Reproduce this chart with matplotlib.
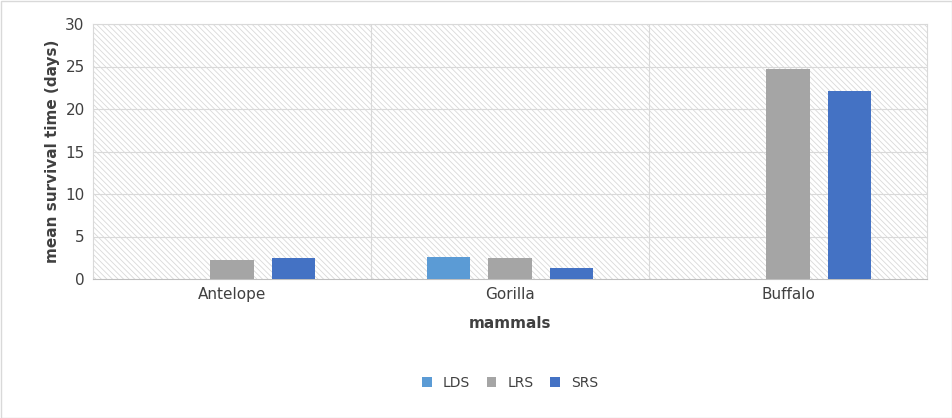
import matplotlib.pyplot as plt
import numpy as np
from matplotlib.patches import Rectangle

categories = ["Antelope", "Gorilla", "Buffalo"]
series = ["LDS", "LRS", "SRS"]
lds = [0, 2.6, 0]
lrs = [2.25, 2.5, 24.7]
srs = [2.5, 1.3, 22.1]
colors = ["#5B9BD5", "#A5A5A5", "#4472C4"]

plt.rcParams['hatch.color'] = '#d9d9d9'
plt.rcParams['hatch.linewidth'] = 0.6

fig = plt.figure(figsize=(9.52, 4.18), dpi=100)
ax = fig.add_axes([93/952, 1-279/418, 834/952, 255/418])

# hatched plot area background
ax.add_patch(Rectangle((0, 0), 1, 1, transform=ax.transAxes, facecolor='white',
                       hatch='\\\\\\\\\\\\', edgecolor='#d9d9d9', linewidth=0, zorder=0))

x = np.arange(len(categories))
w = 0.155
for i, (vals, c, name) in enumerate(zip([lds, lrs, srs], colors, series)):
    ax.bar(x + (i - 1) * 0.22, vals, w, color=c, label=name, zorder=3)

ax.set_xlim(-0.5, 2.5)
ax.set_ylim(0, 30)
ax.set_yticks(range(0, 31, 5))
ax.set_xticks(x)
ax.set_xticklabels(categories)
for yv in range(5, 31, 5):
    ax.axhline(yv, color='#d9d9d9', lw=0.8, zorder=1)
for xv in [0.5, 1.5]:
    ax.axvline(xv, color='#d9d9d9', lw=0.8, zorder=1)
for s in ['top', 'right', 'left']:
    ax.spines[s].set_color('#d9d9d9')
ax.spines['bottom'].set_color('#bfbfbf')
ax.tick_params(length=0, labelsize=11, colors='#404040', pad=6)
ax.set_ylabel('mean survival time (days)', fontsize=11, fontweight='bold', color='#404040')
ax.set_xlabel('mammals', fontsize=11, fontweight='bold', color='#404040', labelpad=10)

ax.legend(loc='upper center', bbox_to_anchor=(0.5, -0.33), ncol=3, frameon=False,
          fontsize=10, handlelength=0.7, handleheight=0.7, columnspacing=1.2,
          labelcolor='#404040')

fig.patches.append(Rectangle((0.5/952, 0.5/418), 1 - 1/952, 1 - 1/418, transform=fig.transFigure,
                             fill=False, edgecolor='#d9d9d9', lw=1))
fig.savefig('out.png', dpi=100)
